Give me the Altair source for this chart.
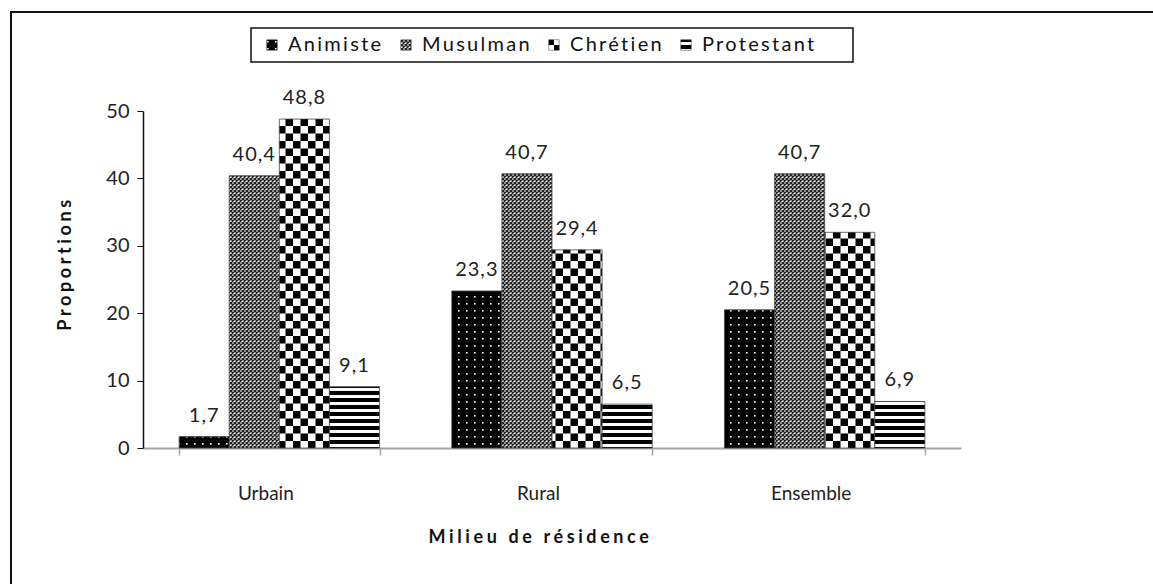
import re
import altair as alt
import pandas as pd
import jinja2

# ---- data ----
milieux = ["Urbain", "Rural", "Ensemble"]
religions = ["Animiste", "Musulman", "Chrétien", "Protestant"]
animiste = [1.7, 23.3, 20.5]
musulman = [40.4, 40.7, 40.7]
chretien = [48.8, 29.4, 32.0]
protestant = [9.1, 6.5, 6.9]
y_ticks = [0, 10, 20, 30, 40, 50]

# fill patterns (defined as SVG <pattern> elements in the page)
pattern_fills = ["url(#pAnim)", "url(#pMus)", "url(#pChr)", "url(#pPro)"]

series = {"Animiste": animiste, "Musulman": musulman,
          "Chrétien": chretien, "Protestant": protestant}
rows = []
for rel in religions:
    for m, v in zip(milieux, series[rel]):
        rows.append({"Milieu": m, "Religion": rel, "Valeur": v})
df = pd.DataFrame(rows)

W, H = 818, 337
FONT = "Lato"

x_enc = alt.X(
    "Milieu:N", sort=milieux,
    scale=alt.Scale(paddingInner=0.265, paddingOuter=0.1325),
    axis=alt.Axis(
        title="Milieu de résidence", labelAngle=0, tickBand="extent",
        domainColor="#a6a6a6", domainWidth=2, tickColor="#a6a6a6",
        tickWidth=1.5, tickSize=7, labelPadding=29, labelOffset=-14,
        labelFont=FONT, labelFontSize=19, labelColor="#222",
        titleFont=FONT, titleFontSize=18, titleFontWeight="bold",
        titleColor="#111", titleX=397, titleY=89, titleBaseline="middle",
    ),
)
xo_enc = alt.XOffset("Religion:N", sort=religions,
                     scale=alt.Scale(paddingInner=0, paddingOuter=0))
y_enc = alt.Y(
    "Valeur:Q", scale=alt.Scale(domain=[0, 50], nice=False),
    axis=alt.Axis(
        title="Proportions", values=y_ticks, grid=False,
        domainColor="#111", domainWidth=1.5, tickColor="#111", tickSize=6,
        labelPadding=8, labelFont=FONT, labelFontSize=20, labelColor="#222",
        titleFont=FONT, titleFontSize=18, titleFontWeight="bold",
        titleColor="#111", titleX=-78, titleY=152, titleBaseline="middle",
        titleAlign="center",
    ),
)

bars = alt.Chart(df).mark_bar(stroke="#444", strokeWidth=0.8).encode(
    x=x_enc, xOffset=xo_enc, y=y_enc,
    color=alt.Color(
        "Religion:N", sort=religions,
        scale=alt.Scale(domain=religions, range=pattern_fills),
        legend=alt.Legend(
            title=None, orient="none", legendX=112, legendY=-83,
            direction="horizontal", symbolType="square", symbolSize=110,
            symbolStrokeColor="#333", symbolStrokeWidth=0.5,
            labelFont=FONT, labelFontSize=20, labelColor="#111",
            labelOffset=6, columnPadding=30, padding=7,
            strokeColor="transparent", fillColor="transparent",
        ),
    ),
)

labels = alt.Chart(df).transform_calculate(
    label="replace(format(datum.Valeur, '.1f'), '.', ',')"
).mark_text(font=FONT, fontSize=20, dy=-15, baseline="alphabetic",
            color="#222").encode(
    x=alt.X("Milieu:N", sort=milieux), xOffset=alt.XOffset("Religion:N", sort=religions),
    y="Valeur:Q", text="label:N",
)

# chart frame (left and top edges visible) and legend box (decorations)
frame_top = alt.Chart(alt.Data(values=[{}])).mark_rule(
    stroke="#111", strokeWidth=2
).encode(x=alt.value(-133), x2=alt.value(1100), y=alt.value(-99))
frame_left = alt.Chart(alt.Data(values=[{}])).mark_rule(
    stroke="#111", strokeWidth=2
).encode(x=alt.value(-132), y=alt.value(-100), y2=alt.value(700))
legend_box = alt.Chart(alt.Data(values=[{}])).mark_rect(
    fill="white", stroke="#111", strokeWidth=1.5
).encode(
    x=alt.value(108), x2=alt.value(710), y=alt.value(-83), y2=alt.value(-49)
)

# page margin is removed in the page style below, so the padding includes it
chart = alt.layer(frame_top, frame_left, legend_box, bars, labels).properties(
    width=W, height=H,
    padding={"left": 143, "top": 111, "right": 192, "bottom": 136},
    autosize=alt.AutoSizeParams(type="none"),
    background="white",
).configure_view(stroke="transparent")

# ---- page: add SVG pattern definitions ----
DEFS = """
<svg width="0" height="0" style="position:absolute">
 <defs>
  <pattern id="pAnim" patternUnits="userSpaceOnUse" width="8" height="7">
   <rect width="8" height="7" fill="#000"/>
   <rect x="3" y="3" width="1.6" height="1.6" fill="#fff"/>
  </pattern>
  <pattern id="pMus" patternUnits="userSpaceOnUse" width="4" height="4">
   <rect width="4" height="4" fill="#fff"/>
   <path d="M0,0 L4,4 M4,0 L0,4" stroke="#222" stroke-width="1.4"/>
  </pattern>
  <pattern id="pChr" patternUnits="userSpaceOnUse" width="15" height="15">
   <rect width="15" height="15" fill="#fff"/>
   <rect width="7.5" height="7.5" fill="#000"/>
   <rect x="7.5" y="7.5" width="7.5" height="7.5" fill="#000"/>
  </pattern>
  <pattern id="pPro" patternUnits="userSpaceOnUse" width="8" height="7">
   <rect width="8" height="7" fill="#fff"/>
   <rect width="8" height="4" fill="#000"/>
  </pattern>
 </defs>
</svg>
"""
STYLE = """
<style>
 html, body { overflow: hidden; margin: 0; padding: 0; }
 .role-axis-title text { letter-spacing: 3.6px; }
 .role-legend-label text { letter-spacing: 2.3px; }
 g.mark-text.role-mark text { letter-spacing: 1px; }
</style>
"""
html = chart.to_html(embed_options={"renderer": "svg", "actions": False})
m = re.search(r"<body[^>]*>", html)
if m:
    html = html[:m.end()] + DEFS + html[m.end():]
else:
    html = html.replace('<div id="vis"', DEFS + '<div id="vis"', 1)
html = html.replace("</head>", STYLE + "</head>", 1)
page_template = jinja2.Template("{% raw %}" + html + "{% endraw %}")

chart.save("out.html", embed_options={"renderer": "svg", "actions": False},
           template=page_template)
